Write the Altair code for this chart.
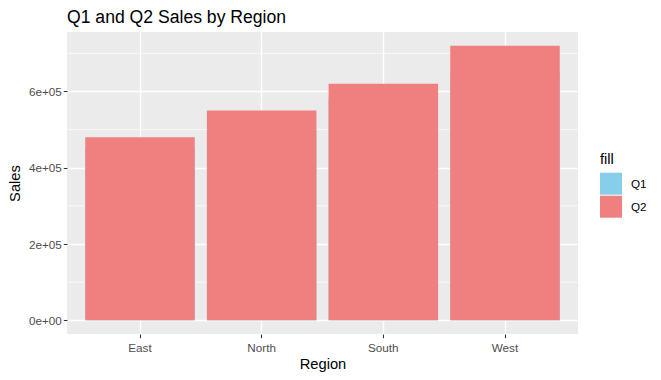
import altair as alt
import pandas as pd

regions = ["East", "North", "South", "West"]
q1_sales = [450000, 500000, 580000, 650000]
q2_sales = [480000, 550000, 620000, 720000]
quarters = ["Q1", "Q2"]
quarter_colors = ["#87CEEB", "#F08080"]
major_breaks = [0, 200000, 400000, 600000]
minor_breaks = [100000, 300000, 500000, 700000]

rows = []
for q, vals in zip(quarters, [q1_sales, q2_sales]):
    for r, v in zip(regions, vals):
        rows.append({"Region": r, "Sales": v, "fill": q})
df = pd.DataFrame(rows)
minor_df = pd.DataFrame({"v": minor_breaks})

FONT = "Liberation Sans"

y_scale = alt.Scale(domain=[-36000, 756000], nice=False, zero=False)
x_scale = alt.Scale(paddingInner=0.1, paddingOuter=0.15)

y_axis = alt.Axis(
    values=major_breaks,
    labelExpr="datum.value == 0 ? '0e+00' : format(datum.value / 100000, 'd') + 'e+05'",
    title="Sales",
    grid=True,
    gridColor="white",
    gridWidth=1.4,
    labelPadding=2,
    titlePadding=6,
)
x_axis = alt.Axis(title="Region", grid=True, gridColor="white", gridWidth=1.4,
                  bandPosition=0.5, labelAngle=0, tickExtra=False,
                  labelPadding=5, titlePadding=2)

minor = alt.Chart(minor_df).mark_rule(color="white", strokeWidth=0.7).encode(
    y=alt.Y("v:Q", scale=y_scale, axis=y_axis)
)

color = alt.Color("fill:N", scale=alt.Scale(domain=quarters, range=quarter_colors),
                  legend=alt.Legend(title="fill"))

def bars(q):
    return alt.Chart(df).transform_filter(alt.datum.fill == q).mark_bar().encode(
        x=alt.X("Region:N", scale=x_scale, axis=x_axis, sort=regions),
        y=alt.Y("Sales:Q", scale=y_scale, axis=y_axis),
        y2=alt.datum(0),
        color=color,
    )

chart = alt.layer(minor, bars("Q1"), bars("Q2")).properties(
    width=511,
    height=302,
    autosize=alt.AutoSizeParams(type="none"),
    padding={"left": 59, "top": 24, "right": 75, "bottom": 38},
    title=alt.TitleParams("Q1 and Q2 Sales by Region", anchor="start", frame="group",
                          font=FONT, fontSize=17.6, fontWeight="normal", color="black",
                          offset=5),
).configure_view(
    fill="#EBEBEB", strokeWidth=0
).configure_axis(
    domain=False,
    tickColor="#333333",
    tickSize=3.7,
    tickWidth=1.07,
    labelColor="#4D4D4D",
    labelFont=FONT,
    labelFontSize=11.7,
    titleFont=FONT,
    titleFontSize=14.7,
    titleFontWeight="normal",
    titleColor="black",
).configure_legend(
    orient="none",
    legendX=533,
    legendY=120,
    titleFont=FONT,
    titleFontSize=14.7,
    titleFontWeight="normal",
    titleColor="black",
    labelFont=FONT,
    labelFontSize=11.7,
    labelColor="black",
    symbolType="square",
    symbolSize=484,
    symbolStrokeWidth=0,
    rowPadding=1,
    labelOffset=9,
    titlePadding=6,
)

chart.save("out.html", embed_options={"renderer": "svg", "actions": False})
